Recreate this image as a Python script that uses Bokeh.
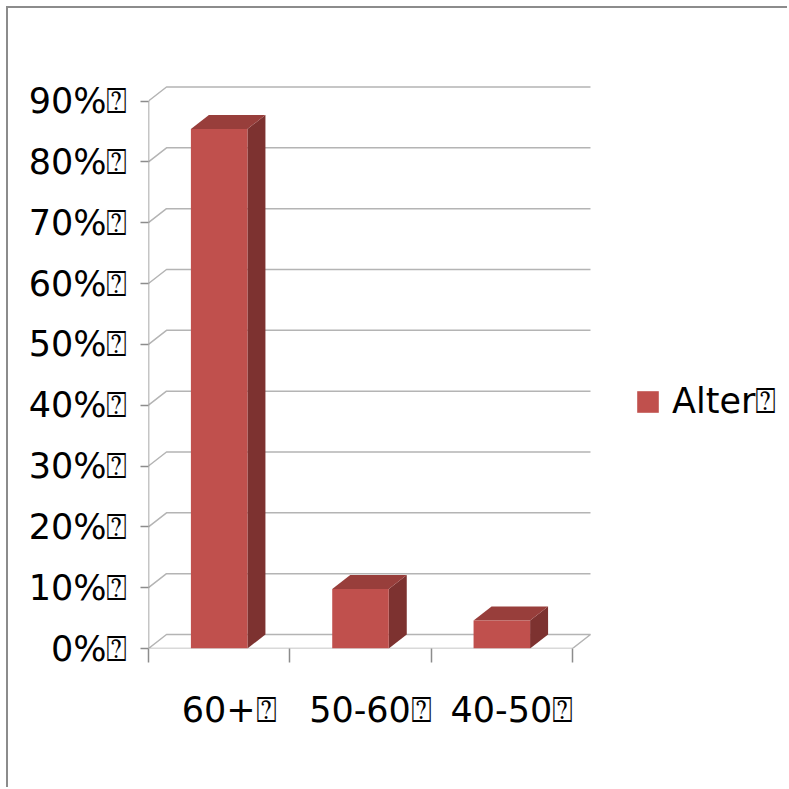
from bokeh.plotting import figure
from bokeh.models import Range1d, FixedTicker, Legend, LegendItem
from bokeh.embed import file_html
from bokeh.resources import INLINE

# ---- data ----
categories = ["60+⍰", "50-60⍰", "40-50⍰"]
values = [85.4, 9.8, 4.6]          # percent
series_name = "Alter⍰"
y_ticks = [0, 10, 20, 30, 40, 50, 60, 70, 80, 90]
y_tick_labels = ["0%⍰", "10%⍰", "20%⍰", "30%⍰", "40%⍰", "50%⍰", "60%⍰", "70%⍰", "80%⍰", "90%⍰"]

# ---- style / geometry ----
FRONT = "#C0504D"
TOP = "#983E3B"
SIDE = "#7D3230"
GRID = "#B4B4B4"
AXIS = "#8C8C8C"
FONT = "DejaVu Sans"

W, H = 781, 781
LEFT, BOTTOM = 140, 141
n = len(categories)
px_per_cat = 141.33
px_per_pct = 6.083
x_end = (W - LEFT) / px_per_cat
y_end = (H - BOTTOM) / px_per_pct
DX = 18 / px_per_cat     # depth offset in data units
DY = 14 / px_per_pct
BW = 0.4                 # bar width (category units)
LABEL_SHIFT = 10 / px_per_cat

p = figure(width=W, height=H, output_backend="svg", toolbar_location=None,
           x_range=Range1d(0, x_end), y_range=Range1d(0, y_end),
           min_border_left=LEFT, min_border_bottom=BOTTOM,
           min_border_top=0, min_border_right=0)
p.outline_line_color = None
p.xgrid.visible = False
p.ygrid.visible = False
p.background_fill_color = "white"
p.border_fill_color = "white"
p.styles = {"margin-left": "6px", "margin-top": "6px",
            "border-left": "2px solid #8C8C8C", "border-top": "2px solid #8C8C8C"}

# back wall gridlines + diagonals
for v in y_ticks:
    if v == 0:
        continue
    p.line([0, DX, n + DX], [v, v + DY, v + DY], line_color=GRID, line_width=1.5)
# floor
p.line([0, DX, n + DX, n, 0], [0, DY, DY, 0, 0], line_color=GRID, line_width=1.5)
# front vertical axis line
p.line([0, 0], [0, y_ticks[-1]], line_color=AXIS, line_width=1.5)

# bars
centers = [i + 0.5 for i in range(n)]
lefts = [c - BW / 2 for c in centers]
rights = [c + BW / 2 for c in centers]
side_xs = [[r, r + DX, r + DX, r] for r in rights]
side_ys = [[0, DY, v + DY, v] for v in values]
top_xs = [[l, r, r + DX, l + DX] for l, r in zip(lefts, rights)]
top_ys = [[v, v, v + DY, v + DY] for v in values]
p.patches(side_xs, side_ys, fill_color=SIDE, line_color=None)
p.patches(top_xs, top_ys, fill_color=TOP, line_color=None)
front = p.quad(left=lefts, right=rights, bottom=[0] * n, top=values,
               fill_color=FRONT, line_color=None)

# y axis
ya = p.yaxis[0]
ya.ticker = FixedTicker(ticks=y_ticks, minor_ticks=[])
ya.major_label_overrides = {t: s for t, s in zip(y_ticks, y_tick_labels)}
ya.axis_line_color = None
ya.major_tick_line_color = AXIS
ya.major_tick_line_width = 1.5
ya.major_tick_out = 8
ya.major_tick_in = 0
ya.major_label_standoff = 13
ya.major_label_text_font = FONT
ya.major_label_text_font_size = "35px"
ya.major_label_text_color = "black"

# x axis
label_pos = [c + LABEL_SHIFT for c in centers]
xa = p.xaxis[0]
xa.ticker = FixedTicker(ticks=label_pos, minor_ticks=list(range(n + 1)))
xa.major_label_overrides = {c: s for c, s in zip(label_pos, categories)}
xa.axis_line_color = None
xa.major_tick_line_color = None
xa.major_tick_out = 14
xa.major_tick_in = 0
xa.minor_tick_line_color = AXIS
xa.minor_tick_line_width = 1.5
xa.minor_tick_out = 14
xa.minor_tick_in = 0
xa.major_label_standoff = 27
xa.major_label_text_font = FONT
xa.major_label_text_font_size = "35px"
xa.major_label_text_color = "black"

legend = Legend(items=[LegendItem(label=series_name, renderers=[front])],
                location=(486, 226), orientation="vertical",
                padding=0, margin=0, border_line_color=None,
                background_fill_alpha=0, glyph_width=27, glyph_height=27,
                label_standoff=11, label_text_font=FONT,
                label_text_font_size="35px", label_text_color="black")
p.add_layout(legend, "center")

open("out.html", "w").write(file_html(p, INLINE))
